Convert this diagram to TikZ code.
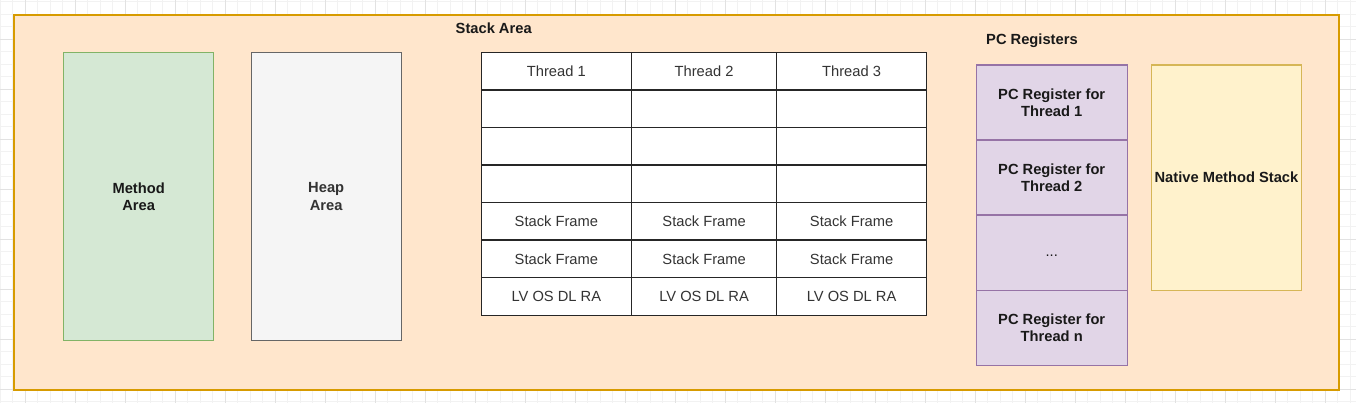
\documentclass[tikz,border=0pt]{standalone}
\usepackage{fontspec}
\setmainfont{Liberation Sans}
\definecolor{outerfill}{HTML}{FFE6CC}
\definecolor{outerdraw}{HTML}{D79B00}
\definecolor{greenfill}{HTML}{D5E8D4}
\definecolor{greendraw}{HTML}{82B366}
\definecolor{grayfill}{HTML}{F5F5F5}
\definecolor{graydraw}{HTML}{666666}
\definecolor{graytext}{HTML}{333333}
\definecolor{purplefill}{HTML}{E1D5E7}
\definecolor{purpledraw}{HTML}{9673A6}
\definecolor{yellowfill}{HTML}{FFF2CC}
\definecolor{yellowdraw}{HTML}{D6B656}
\definecolor{gridminor}{HTML}{F2F2F2}
\definecolor{gridmajor}{HTML}{E2E2E2}
\newcommand{\diagfont}{\fontsize{14.7}{17.5}\selectfont}
\begin{document}
\begin{tikzpicture}[x=1pt,y=-1pt,
  gminor/.style={draw=gridminor, line width=0.8pt},
  gmajor/.style={draw=gridmajor, line width=0.8pt},
  region/.style={line width=1.4pt, inner sep=0pt, anchor=north west, font=\diagfont\bfseries, align=center},
  cell/.style={draw=black!85, line width=1.2pt, fill=white, minimum height=37.5pt, inner sep=0pt, anchor=north west, font=\diagfont, text=black!80},
  pcreg/.style={draw=purpledraw, fill=purplefill, line width=1.4pt, minimum width=151pt, minimum height=75pt, inner sep=0pt, anchor=north west, font=\diagfont\bfseries, align=center, text=black!90},
  caption/.style={font=\diagfont\bfseries, inner sep=0pt, anchor=west, text=black!90}
]
\useasboundingbox (0,0) rectangle (1356,403);
% background grid
\foreach \i in {0,...,108} \draw[gminor] (\i*12.5,0) -- (\i*12.5,403);
\foreach \j in {0,...,32} \draw[gminor] (0,1.5+\j*12.5) -- (1356,1.5+\j*12.5);
\foreach \i in {0,...,26} \draw[gmajor] (25+\i*50,0) -- (25+\i*50,403);
\foreach \j in {0,...,7} \draw[gmajor] (0,39+\j*50) -- (1356,39+\j*50);

% outer container
\node[region, draw=outerdraw, fill=outerfill, line width=1.5pt, minimum width=1325pt, minimum height=374.5pt] (outer) at (13,14.5) {};

% method and heap areas
\node[region, draw=greendraw, fill=greenfill, minimum width=150pt, minimum height=288pt, text=black!90] (method) at (63,52) {Method\\Area};
\node[region, draw=graydraw, fill=grayfill, minimum width=150pt, minimum height=288pt, text=graytext] (heap) at (250.5,52) {Heap\\Area};

% stack area
\node[caption] (stacklabel) at (455.5,28.5) {Stack Area};
\node[cell, minimum width=150.5pt] (c11) at (480.5,52) {Thread 1};
\node[cell, minimum width=145pt] (c12) at (631,52) {Thread 2};
\node[cell, minimum width=150pt] (c13) at (776,52) {Thread 3};
\foreach \r/\y/\t in {2/89.5/{}, 3/127/{}, 4/164.5/{}, 5/202/{Stack Frame}, 6/239.5/{Stack Frame}, 7/277/{LV OS DL RA}} {
  \node[cell, minimum width=150.5pt] (c\r1) at (480.5,\y) {\t};
  \node[cell, minimum width=145pt] (c\r2) at (631,\y) {\t};
  \node[cell, minimum width=150pt] (c\r3) at (776,\y) {\t};
}

% PC registers
\node[caption] (pclabel) at (986,40.5) {PC Registers};
\node[pcreg] (pc1) at (975.5,64.5) {PC Register for\\Thread 1};
\node[pcreg] (pc2) at (975.5,139.5) {PC Register for\\Thread 2};
\node[pcreg, font=\diagfont] (pc3) at (975.5,214.5) {\raisebox{-4pt}[0pt][0pt]{...}};
\node[pcreg] (pc4) at (975.5,289.5) {PC Register for\\Thread n};

% native method stack
\node[region, draw=yellowdraw, fill=yellowfill, minimum width=150.5pt, minimum height=225pt, text=black!90] (native) at (1150.5,64.5) {Native Method Stack};
\end{tikzpicture}
\end{document}
